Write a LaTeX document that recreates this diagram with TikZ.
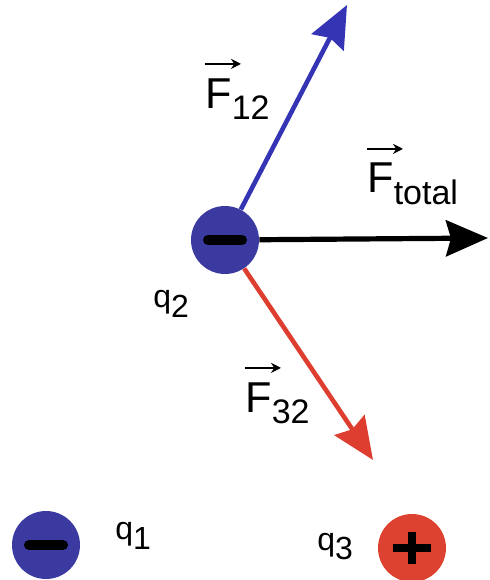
\documentclass[tikz,border=0pt]{standalone}
\usepackage{fontspec}
\setmainfont{Liberation Sans}
\usetikzlibrary{arrows.meta}
\definecolor{qblue}{RGB}{58,58,160}
\definecolor{qred}{RGB}{221,66,48}
\definecolor{fblue}{RGB}{52,52,180}
\definecolor{fred}{RGB}{222,62,48}
\newcommand{\Fsub}[1]{\raisebox{-6pt}{\fontsize{17}{17}\selectfont #1}}
\newcommand{\qsub}[1]{\raisebox{-5pt}{#1}}
\tikzset{
  chg/.style   = {circle, minimum size=34pt, inner sep=0pt},
  negq/.style  = {chg, fill=qblue},
  posq/.style  = {chg, fill=qred},
  sgn/.style   = {line width=5pt, line cap=round},
  fo/.style    = {line width=2.3pt, -{Stealth[length=21pt, width=18pt, inset=2.5pt]}},
  vecar/.style = {line width=1pt, -{Stealth[length=5pt, width=5pt]}},
  flbl/.style  = {anchor=base west, inner sep=0pt, font=\fontsize{21.6}{24}\selectfont},
  qlbl/.style  = {anchor=base west, inner sep=0pt, font=\fontsize{16}{18}\selectfont},
}
\begin{document}
\begin{tikzpicture}[x=0.5pt, y=0.5pt]
  \useasboundingbox (0,0) rectangle (489,580);
  \coordinate (t12)  at (347,575);
  \coordinate (tnet) at (488,342);
  \coordinate (t32)  at (373,120);
  \node[negq] (q2) at (225,340) {};
  \node[negq] (q1) at (46,35)   {};
  \node[posq] (q3) at (412,32)  {};
  \draw[fo, fblue] (q2) -- (t12);
  \draw[fo, black, line width=2.6pt] (q2) -- (tnet);
  \draw[fo, fred] (q2) -- (t32);
  % signs
  \draw[sgn] ([xshift=-8.5pt]q2.center) -- ([xshift=8.5pt]q2.center);
  \draw[sgn] ([xshift=-8.5pt]q1.center) -- ([xshift=8.5pt]q1.center);
  \draw[line width=4pt] ([xshift=-9.5pt]q3.center) -- ([xshift=9.5pt]q3.center);
  \draw[line width=4pt] ([yshift=-8pt]q3.center) -- ([yshift=8pt]q3.center);
  % labels
  \node[flbl] (f12)  at (205,472) {F\Fsub{12}};
  \node[flbl] (fnet) at (367,387) {F\Fsub{total}};
  \node[flbl] (f32)  at (245,168) {F\Fsub{32}};
  \foreach \n in {f12,fnet,f32}
    \draw[vecar] ([yshift=7pt]\n.north west) -- ++(18pt,0pt);
  \node[qlbl] (l2) at (153,272) {q\qsub{2}};
  \node[qlbl] (l1) at (115,40)  {q\qsub{1}};
  \node[qlbl] (l3) at (317,30)  {q\qsub{3}};
\end{tikzpicture}
\end{document}
